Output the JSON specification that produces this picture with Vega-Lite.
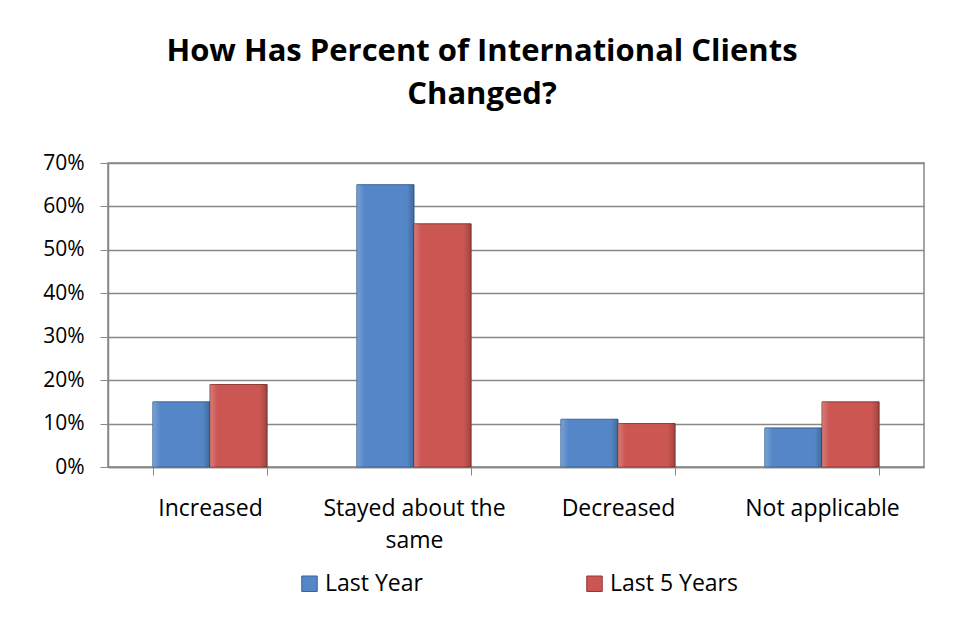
{
  "$schema": "https://vega.github.io/schema/vega-lite/v6.json",
  "width": 816,
  "height": 304,
  "autosize": {"type": "none"},
  "padding": {"left": 108, "top": 163, "right": 33, "bottom": 155},
  "background": "white",
  "title": {
    "text": ["How Has Percent of International Clients", "Changed?"],
    "font": "Open Sans",
    "fontSize": 31,
    "fontWeight": "bold",
    "color": "black",
    "lineHeight": 43,
    "anchor": "middle",
    "dx": -34,
    "offset": 41
  },
  "data": {
    "values": [
      {"category": "Increased", "series": "Last Year", "value": 0.15},
      {"category": "Increased", "series": "Last 5 Years", "value": 0.19},
      {"category": "Stayed about the same", "series": "Last Year", "value": 0.65},
      {"category": "Stayed about the same", "series": "Last 5 Years", "value": 0.56},
      {"category": "Decreased", "series": "Last Year", "value": 0.11},
      {"category": "Decreased", "series": "Last 5 Years", "value": 0.10},
      {"category": "Not applicable", "series": "Last Year", "value": 0.09},
      {"category": "Not applicable", "series": "Last 5 Years", "value": 0.15}
    ]
  },
  "encoding": {
    "x": {
      "field": "category",
      "type": "nominal",
      "sort": ["Increased", "Stayed about the same", "Decreased", "Not applicable"],
      "scale": {"paddingInner": 0.44, "paddingOuter": 0.22},
      "axis": {
        "title": null,
        "labelAngle": 0,
        "tickBand": "extent",
        "tickSize": 8,
        "tickColor": "#888888",
        "domainColor": "#888888",
        "domainWidth": 1.5,
        "labelFont": "Open Sans",
        "labelFontSize": 23,
        "labelColor": "black",
        "labelPadding": 22,
        "labelLineHeight": 32,
        "labelLimit": 400,
        "labelExpr": "datum.label == 'Stayed about the same' ? ['Stayed about the', 'same'] : datum.label"
      }
    },
    "xOffset": {
      "field": "series",
      "type": "nominal",
      "sort": ["Last Year", "Last 5 Years"],
      "scale": {"paddingInner": 0, "paddingOuter": 0}
    },
    "y": {
      "field": "value",
      "type": "quantitative",
      "scale": {"domain": [0, 0.7], "nice": false},
      "axis": {
        "title": null,
        "format": ".0%",
        "values": [0, 0.1, 0.2, 0.3, 0.4, 0.5, 0.6, 0.7],
        "tickSize": 8,
        "tickColor": "#888888",
        "domainColor": "#888888",
        "domainWidth": 1.5,
        "gridColor": "#888888",
        "gridWidth": 1.5,
        "labelFont": "Open Sans",
        "labelFontSize": 21,
        "labelColor": "black",
        "labelPadding": 16
      }
    }
  },
  "layer": [
    {
      "mark": {"type": "bar", "strokeWidth": 1},
      "encoding": {
        "color": {
          "field": "series",
          "type": "nominal",
          "sort": ["Last Year", "Last 5 Years"],
          "scale": {"domain": ["Last Year", "Last 5 Years"], "range": ["#5587C8", "#CC5652"]},
          "legend": {
            "title": null,
            "orient": "none",
            "direction": "horizontal",
            "legendX": 190,
            "legendY": 409,
            "symbolType": "square",
            "symbolSize": 240,
            "symbolStrokeWidth": 1,
            "labelFont": "Open Sans",
            "labelFontSize": 23,
            "labelColor": "black",
            "columnPadding": 160,
            "labelOffset": 4
          }
        },
        "stroke": {
          "field": "series",
          "type": "nominal",
          "scale": {"domain": ["Last Year", "Last 5 Years"], "range": ["#3A6494", "#8E3B38"]},
          "legend": null
        }
      }
    },
    {
      "mark": {
        "type": "bar",
        "strokeWidth": 0,
        "fill": {
          "gradient": "linear",
          "x1": 0, "y1": 0, "x2": 1, "y2": 0,
          "stops": [
            {"offset": 0, "color": "rgba(255,255,255,0.22)"},
            {"offset": 0.13, "color": "rgba(255,255,255,0.0)"},
            {"offset": 0.87, "color": "rgba(0,0,0,0.0)"},
            {"offset": 1, "color": "rgba(0,0,0,0.22)"}
          ]
        }
      },
      "encoding": {}
    }
  ],
  "config": {
    "view": {"stroke": "#888888", "strokeWidth": 1.5}
  }
}
